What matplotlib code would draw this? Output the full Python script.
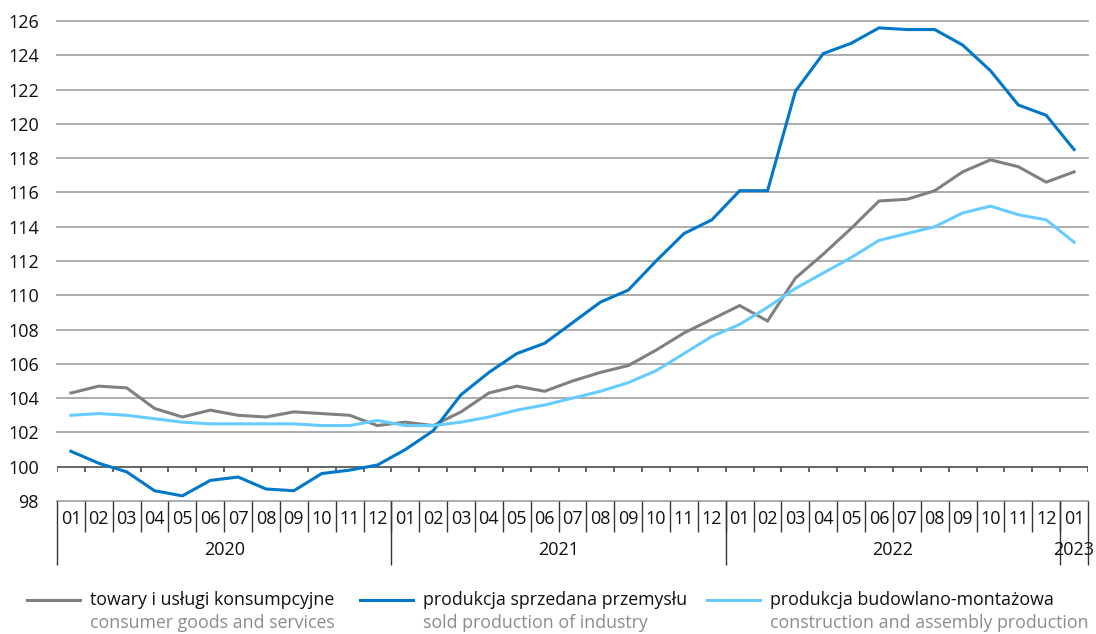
import numpy as np
import matplotlib
matplotlib.use('Agg')
import matplotlib.pyplot as plt
import matplotlib.transforms as mtransforms
from matplotlib.lines import Line2D

plt.rcParams['font.family'] = ['Open Sans', 'DejaVu Sans']

# monthly data 2020-01 .. 2023-01
months = ['01', '02', '03', '04', '05', '06', '07', '08', '09', '10', '11', '12'] * 3 + ['01']
years = ['2020', '2021', '2022', '2023']

consumer = [104.3, 104.7, 104.6, 103.4, 102.9, 103.3, 103.0, 102.9, 103.2, 103.1, 103.0, 102.4,
            102.6, 102.4, 103.2, 104.3, 104.7, 104.4, 105.0, 105.5, 105.9, 106.8, 107.8, 108.6,
            109.4, 108.5, 111.0, 112.4, 113.9, 115.5, 115.6, 116.1, 117.2, 117.9, 117.5, 116.6,
            117.2]
industry = [100.9, 100.2, 99.7, 98.6, 98.3, 99.2, 99.4, 98.7, 98.6, 99.6, 99.8, 100.1,
            101.0, 102.1, 104.2, 105.5, 106.6, 107.2, 108.4, 109.6, 110.3, 112.0, 113.6, 114.4,
            116.1, 116.1, 121.9, 124.1, 124.7, 125.6, 125.5, 125.5, 124.6, 123.1, 121.1, 120.5,
            118.5]
construction = [103.0, 103.1, 103.0, 102.8, 102.6, 102.5, 102.5, 102.5, 102.5, 102.4, 102.4, 102.7,
                102.4, 102.4, 102.6, 102.9, 103.3, 103.6, 104.0, 104.4, 104.9, 105.6, 106.6, 107.6,
                108.3, 109.3, 110.4, 111.3, 112.2, 113.2, 113.6, 114.0, 114.8, 115.2, 114.7, 114.4,
                113.1]

labels_pl = ['towary i usługi konsumpcyjne', 'produkcja sprzedana przemysłu', 'produkcja budowlano-montażowa']
labels_en = ['consumer goods and services', 'sold production of industry', 'construction and assembly production']
colors = ['#808080', '#0077c8', '#66ccff']

n = len(months)
x = np.arange(n)

fig = plt.figure(figsize=(10.96, 6.34), dpi=100)
ax = fig.add_axes([57 / 1096, 133 / 634, 1031 / 1096, 480 / 634])

grid_c = '#a6a6a6'
for v in range(98, 127, 2):
    if v == 100:
        continue
    ax.axhline(v, color=grid_c, lw=1.3, zorder=1, clip_on=False)
ax.axhline(100, color='#595959', lw=1.3, zorder=2)
ax.vlines(np.arange(n + 1) - 0.5, 99.7, 100, color='#595959', lw=1.3, zorder=2)

for series, c in zip([consumer, industry, construction], colors):
    ax.plot(x, series, color=c, lw=2.2, zorder=3, solid_joinstyle='miter')

ax.set_xlim(-0.5, n - 0.5)
ax.set_ylim(98, 126)
ax.set_yticks(range(98, 127, 2))
ax.tick_params(axis='y', length=0, pad=13, labelsize=13, labelcolor='#111111')
ax.set_xticks([])
for s in ax.spines.values():
    s.set_visible(False)

# category axis below the chart
trans = mtransforms.blended_transform_factory(ax.transData, ax.transAxes)
for i, m in enumerate(months):
    ax.text(i, -0.037, m, transform=trans, ha='center', va='center', fontsize=13, color='#111111')
sep = np.arange(1, n) - 0.5
ax.vlines(sep, -0.065, 0, transform=trans, color='#333333', lw=1, clip_on=False)
ax.vlines([-0.5, 11.5, 23.5, 35.5, n - 0.5], -0.133, 0, transform=trans, color='#333333', lw=1, clip_on=False)
year_mid = [5.5, 17.5, 29.5, 36]
for yr, xm in zip(years, year_mid):
    ax.text(xm, -0.102, yr, transform=trans, ha='center', va='center', fontsize=13, color='#111111')

# legend
leg_x = [27, 360, 707]
for lx, c, lp, le in zip(leg_x, colors, labels_pl, labels_en):
    fig.add_artist(Line2D([lx / 1096, (lx + 53) / 1096], [34 / 634, 34 / 634], color=c, lw=2.2))
    fig.text((lx + 63) / 1096, 34 / 634, lp, ha='left', va='center', fontsize=12.8, color='#111111')
    fig.text((lx + 63) / 1096, 11 / 634, le, ha='left', va='center', fontsize=12.8, color='#8c8c8c')

fig.savefig('out.png', dpi=100)
